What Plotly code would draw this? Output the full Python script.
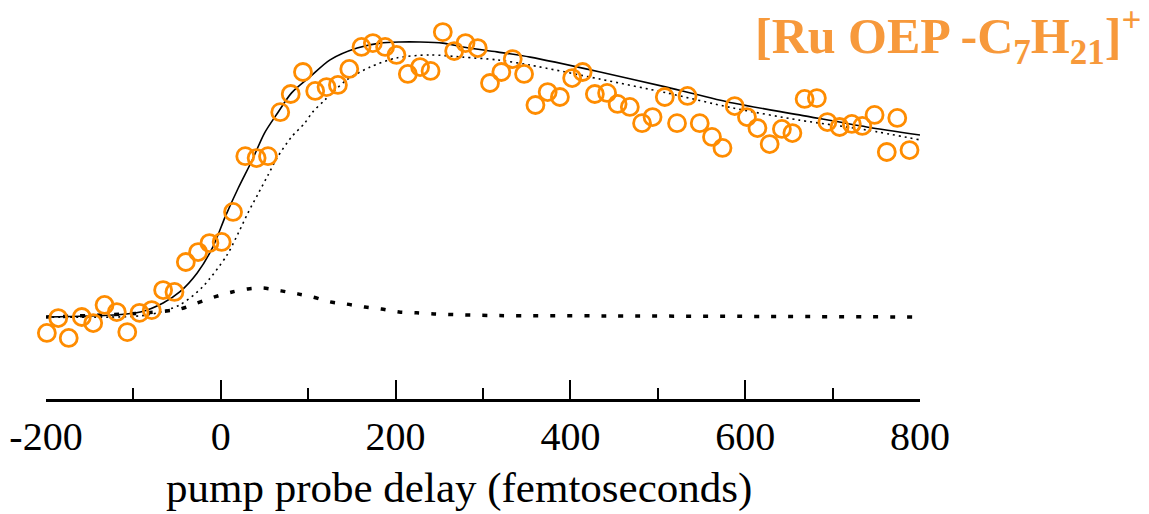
import plotly.graph_objects as go

# ---- data ----
delay_fs = [-199, -186, -174, -159, -146, -133, -119, -107, -93, -79,
            -66, -53, -40, -26, -13, 1, 14, 28, 41, 54,
            68, 80, 94, 108, 121, 134, 147, 161, 174, 188,
            201, 214, 228, 240, 254, 267, 280, 294, 308, 321,
            334, 347, 360, 374, 388, 402, 414, 428, 442, 454,
            468, 482, 494, 508, 522, 534, 548, 562, 574, 588,
            602, 614, 628, 642, 654, 668, 682, 694, 708, 722,
            734, 748, 762, 774, 788]
signal = [-0.058, -0.004, -0.076, 0.000, -0.022, 0.044, 0.018, -0.055, 0.015, 0.025,
          0.098, 0.091, 0.200, 0.236, 0.269, 0.273, 0.382, 0.585, 0.578, 0.585,
          0.745, 0.811, 0.891, 0.822, 0.836, 0.844, 0.902, 0.982, 0.996, 0.982,
          0.953, 0.884, 0.909, 0.895, 1.036, 0.967, 0.996, 0.978, 0.851, 0.891,
          0.938, 0.884, 0.771, 0.818, 0.800, 0.869, 0.891, 0.811, 0.815, 0.775,
          0.764, 0.705, 0.727, 0.800, 0.705, 0.804, 0.705, 0.655, 0.615, 0.767,
          0.727, 0.687, 0.629, 0.684, 0.669, 0.793, 0.796, 0.709, 0.691, 0.702,
          0.695, 0.735, 0.600, 0.724, 0.607]

fit_x = [-200, -123, -92, -66, -47, -27, -9, 5, 20, 36, 50, 65, 81, 102, 125,
         156, 182, 205, 228, 254, 277, 316, 354, 434, 510, 586, 662, 739, 800]
fit_y = [0.000, 0.007, 0.018, 0.051, 0.091, 0.160, 0.255, 0.364, 0.469, 0.571, 0.669,
         0.742, 0.815, 0.873, 0.935, 0.978, 0.996, 1.000, 1.000, 0.996, 0.982, 0.964,
         0.945, 0.891, 0.836, 0.778, 0.735, 0.691, 0.662]

slow_x = [-200, -85, -47, -21, 7, 20, 31, 42, 54, 65, 81, 96, 105, 119, 144,
          171, 201, 239, 277, 316, 354, 434, 510, 586, 662, 739, 800]
slow_y = [0.000, 0.007, 0.044, 0.109, 0.225, 0.305, 0.378, 0.444, 0.516, 0.582, 0.655,
          0.705, 0.745, 0.789, 0.862, 0.909, 0.942, 0.953, 0.945, 0.935, 0.916, 0.865,
          0.815, 0.760, 0.716, 0.680, 0.644]

fast_x = [-200, -87, -47, -27, -7, 13, 31, 49, 69, 88, 105, 125, 144, 165, 184,
          204, 224, 244, 319, 441, 800]
fast_y = [0.000, 0.015, 0.029, 0.051, 0.073, 0.091, 0.102, 0.105, 0.095, 0.084, 0.073,
          0.055, 0.047, 0.036, 0.029, 0.018, 0.015, 0.011, 0.005, 0.004, 0.000]

x_tick_vals = [-200, 0, 200, 400, 600, 800]
x_tick_text = ["-200", "0", "200", "400", "600", "800"]

title_text = "[Ru OEP -C<sub>7</sub>H<sub>21</sub>]<sup>+</sup>"
x_title = "pump probe delay (femtoseconds)"

ORANGE = "#FF8C00"
TITLE_ORANGE = "#F7993B"
SERIF = "Liberation Serif"

fig = go.Figure()
fig.add_trace(go.Scatter(x=fast_x, y=fast_y, mode="lines",
                         line=dict(color="black", width=3.5, dash="5px,12px",
                                   shape="spline", smoothing=0.8),
                         cliponaxis=False, showlegend=False))
fig.add_trace(go.Scatter(x=slow_x, y=slow_y, mode="lines",
                         line=dict(color="black", width=1.6, dash="2px,4px",
                                   shape="spline", smoothing=0.8),
                         cliponaxis=False, showlegend=False))
fig.add_trace(go.Scatter(x=fit_x, y=fit_y, mode="lines",
                         line=dict(color="black", width=1.6,
                                   shape="spline", smoothing=0.8),
                         cliponaxis=False, showlegend=False))
fig.add_trace(go.Scatter(x=delay_fs, y=signal, mode="markers",
                         marker=dict(symbol="circle-open", size=17,
                                     color=ORANGE, line=dict(width=2.8, color=ORANGE)),
                         cliponaxis=False, showlegend=False))

fig.update_layout(
    width=1149, height=514,
    margin=dict(l=46, r=229, t=10, b=115),
    paper_bgcolor="white", plot_bgcolor="white",
    xaxis=dict(range=[-200, 800], showgrid=False, zeroline=False,
               showline=True, linewidth=3, linecolor="black",
               ticks="inside", ticklen=19, tickwidth=2, tickcolor="black",
               tickvals=x_tick_vals, ticktext=x_tick_text,
               minor=dict(dtick=100, tick0=-200, ticks="inside", ticklen=11,
                          tickwidth=2, tickcolor="black", showgrid=False),
               tickfont=dict(family=SERIF, size=40, color="black"),
               ticklabelstandoff=0),
    yaxis=dict(range=[-0.2982, 1.1164], visible=False),
    annotations=[
        dict(text=title_text, xref="paper", yref="paper",
             x=(1143 - 46) / 874, y=(399 - 36) / 389,
             xanchor="right", yanchor="middle", showarrow=False,
             font=dict(family=SERIF, size=50, color=TITLE_ORANGE, weight="bold")),
        dict(text=x_title, xref="paper", yref="paper",
             x=(458.5 - 46) / 874, y=(399 - 488) / 389,
             xanchor="center", yanchor="middle", showarrow=False,
             font=dict(family=SERIF, size=43, color="black")),
    ],
)

fig.write_html("out.html")
